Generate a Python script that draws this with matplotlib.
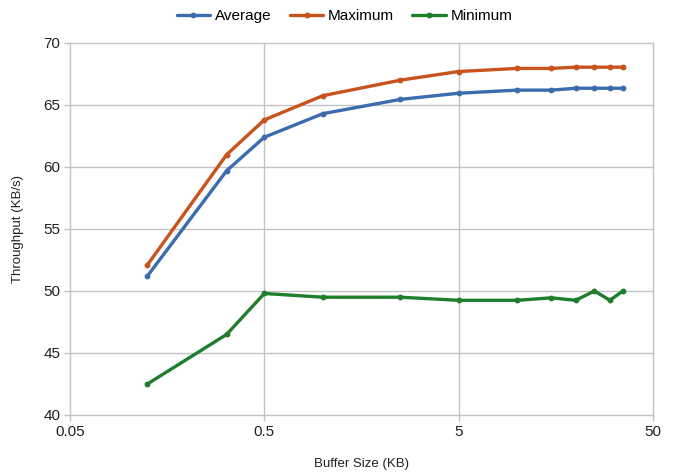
import matplotlib
matplotlib.use("Agg")
import matplotlib.pyplot as plt
from matplotlib import font_manager
from matplotlib.ticker import FixedLocator, NullLocator

# Buffer sizes (KB) and measured throughput (KB/s)
buffer_kb = [0.125, 0.32, 0.5, 1, 2.5, 5, 10, 15, 20, 25, 30, 35]
average = [51.2, 59.7, 62.4, 64.3, 65.45, 65.95, 66.2, 66.2, 66.35, 66.35, 66.35, 66.35]
maximum = [52.1, 61.0, 63.8, 65.75, 67.0, 67.7, 67.95, 67.95, 68.05, 68.05, 68.05, 68.05]
minimum = [42.5, 46.5, 49.8, 49.5, 49.5, 49.25, 49.25, 49.45, 49.25, 50.0, 49.25, 50.0]

x_ticks = [0.05, 0.5, 5, 50]
x_tick_labels = ["0.05", "0.5", "5", "50"]
y_ticks = [40, 45, 50, 55, 60, 65, 70]

names = {f.name for f in font_manager.fontManager.ttflist}
family = ["Liberation Sans Narrow"] if "Liberation Sans Narrow" in names else ["Liberation Sans"]
plt.rcParams["font.family"] = family + ["DejaVu Sans"]

fig = plt.figure(figsize=(6.89, 4.74), dpi=100)
ax = fig.add_axes([70 / 689, 1 - 415 / 474, (653 - 70) / 689, (415 - 43) / 474])

series = [
    ("Average", average, "#3b6cae"),
    ("Maximum", maximum, "#c8531c"),
    ("Minimum", minimum, "#1f7e2c"),
]
for label, values, color in series:
    ax.plot(buffer_kb, values, color=color, lw=2.4, marker="o", ms=3.2,
            label=label, solid_joinstyle="round", solid_capstyle="round", zorder=3)

ax.set_xscale("log")
ax.set_xlim(0.05, 50)
ax.set_ylim(40, 70)
ax.xaxis.set_major_locator(FixedLocator(x_ticks))
ax.xaxis.set_minor_locator(NullLocator())
ax.set_xticks(x_ticks)
ax.set_xticklabels(x_tick_labels)
ax.set_yticks(y_ticks)

ax.grid(True, color="#c3c3c3", lw=1.0)
for gl in ax.get_xgridlines() + ax.get_ygridlines():
    gl.set_clip_on(False)
ax.set_axisbelow(True)
for s in ax.spines.values():
    s.set_visible(False)
ax.tick_params(axis="both", which="major", length=4, width=1.0, color="#c3c3c3",
               labelsize=11, labelcolor="#222222", pad=3)

ax.set_xlabel("Buffer Size (KB)", fontsize=9.5, color="#222222", labelpad=14)
ax.set_ylabel("Throughput (KB/s)", fontsize=9.5, color="#222222", labelpad=14)

fig.legend(loc="upper center", bbox_to_anchor=(0.5, 1.0), ncol=3, frameon=False,
           fontsize=11, handlelength=2.2, handletextpad=0.3, columnspacing=1.2,
           borderaxespad=0.2)

fig.savefig("out.png", dpi=100)
